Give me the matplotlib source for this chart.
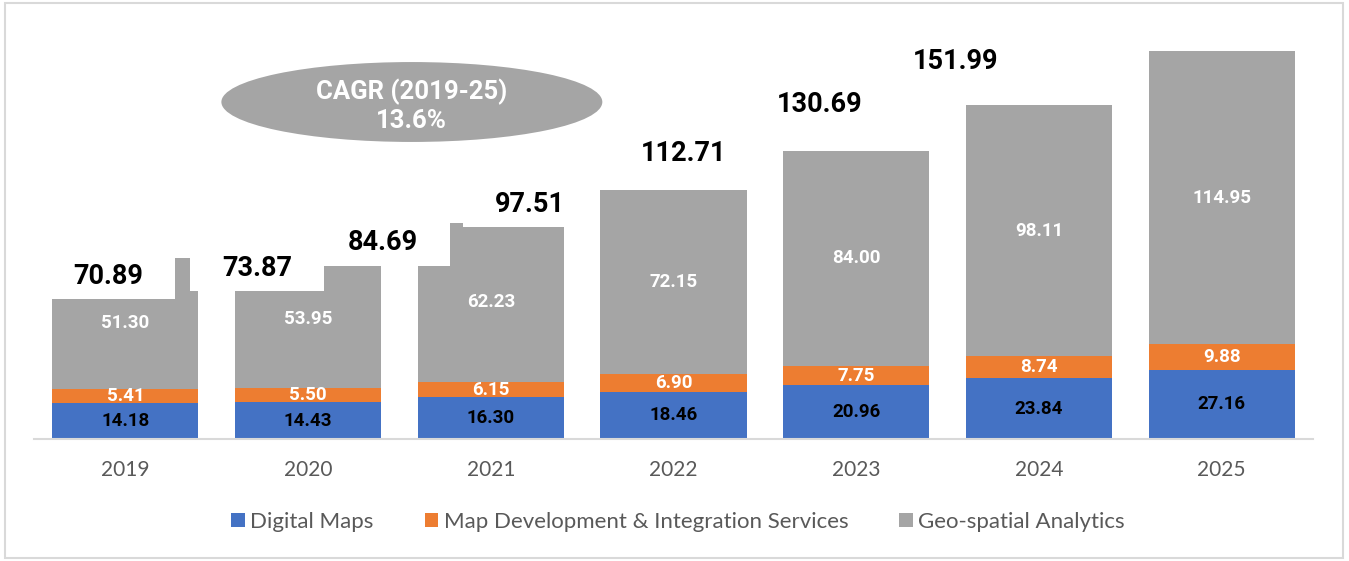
import matplotlib.pyplot as plt
from matplotlib.patches import Rectangle, Ellipse
from matplotlib.transforms import ScaledTranslation
import numpy as np

plt.rcParams['font.family'] = ['Lato', 'DejaVu Sans']
bold_family = ['Roboto', 'DejaVu Sans']

years = ['2019', '2020', '2021', '2022', '2023', '2024', '2025']
digital_maps = [14.18, 14.43, 16.30, 18.46, 20.96, 23.84, 27.16]
map_dev = [5.41, 5.50, 6.15, 6.90, 7.75, 8.74, 9.88]
geo_analytics = [51.30, 53.95, 62.23, 72.15, 84.00, 98.11, 114.95]
totals = ['70.89', '73.87', '84.69', '97.51', '112.71', '130.69', '151.99']
cagr_text = 'CAGR (2019-25)\n13.6%'

# where the total labels sit in the original (they drift left of their bars)
total_label_x = [-0.096, 0.720, 1.409, 2.213, 3.056, 3.800, 4.545]
total_label_y = [63.8, 66.9, 76.8, 92.0, 112.0, 131.2, 147.7]

blue = '#4472C4'
orange = '#ED7D31'
gray = '#A5A5A5'
text_gray = '#595959'

fig = plt.figure(figsize=(13.49, 5.61), dpi=100)
ax = fig.add_axes([34 / 1349, 0.2175, (1313 - 34) / 1349, 0.9456 - 0.2175])

x = np.arange(len(years))
width = 0.8
b1 = ax.bar(x, digital_maps, width, color=blue, label='Digital Maps', zorder=2)
b2 = ax.bar(x, map_dev, width, bottom=digital_maps, color=orange,
            label='Map Development & Integration Services', zorder=2)
bottom3 = np.array(digital_maps) + np.array(map_dev)
b3 = ax.bar(x, geo_analytics, width, bottom=bottom3, color=gray,
            label='Geo-spatial Analytics', zorder=2)

seg_font = dict(fontsize=13.5, fontweight='bold', family=bold_family)
ax.bar_label(b1, labels=[f'{v:.2f}' for v in digital_maps], label_type='center',
             color='black', **seg_font)
ax.bar_label(b2, labels=[f'{v:.2f}' for v in map_dev], label_type='center',
             color='white', **seg_font)
ax.bar_label(b3, labels=[f'{v:.2f}' for v in geo_analytics], label_type='center',
             color='white', **seg_font)

# total labels with their white boxes, which cover parts of the bars
for lx, ly, t in zip(total_label_x, total_label_y, totals):
	tr = fig.dpi_scale_trans + ScaledTranslation(lx, ly, ax.transData)
	ax.add_patch(Rectangle((-0.67, -0.23), 1.34, 0.46, transform=tr,
	                       facecolor='white', edgecolor='none', zorder=3))
	ax.text(lx, ly, t, ha='center', va='center', fontsize=19.5,
	        fontweight='bold', family=bold_family, color='black', zorder=4)

ax.add_patch(Ellipse((1.568, 132), 2.085, 31.3, facecolor=gray,
                     edgecolor='none', zorder=5))
ax.text(1.568, 130.5, cagr_text, ha='center', va='center', fontsize=18.5,
        fontweight='bold', family=bold_family, color='white', linespacing=1.2, zorder=6)

ax.set_xlim(-0.5, 6.5)
ax.set_ylim(0, 160)
ax.set_xticks(x)
ax.set_xticklabels(years, fontsize=15, color=text_gray)
ax.tick_params(axis='x', length=0, pad=15)
ax.set_yticks([])
for s in ['top', 'right', 'left']:
	ax.spines[s].set_visible(False)
ax.spines['bottom'].set_color('#d9d9d9')
ax.spines['bottom'].set_linewidth(1.5)

leg = fig.legend(handles=[b1, b2, b3], loc='center', bbox_to_anchor=(678 / 1349, 1 - 522 / 561),
                 ncol=3, frameon=False, fontsize=16, handlelength=0.6, handleheight=0.6,
                 handletextpad=0.25, columnspacing=2.3)
for t in leg.get_texts():
	t.set_color(text_gray)

fig.patches.append(Rectangle((5 / 1349, 3 / 561), 1338 / 1349, 555 / 561,
                             transform=fig.transFigure, facecolor='none',
                             edgecolor='#d9d9d9', linewidth=1.5))

fig.savefig('out.png', dpi=100)
